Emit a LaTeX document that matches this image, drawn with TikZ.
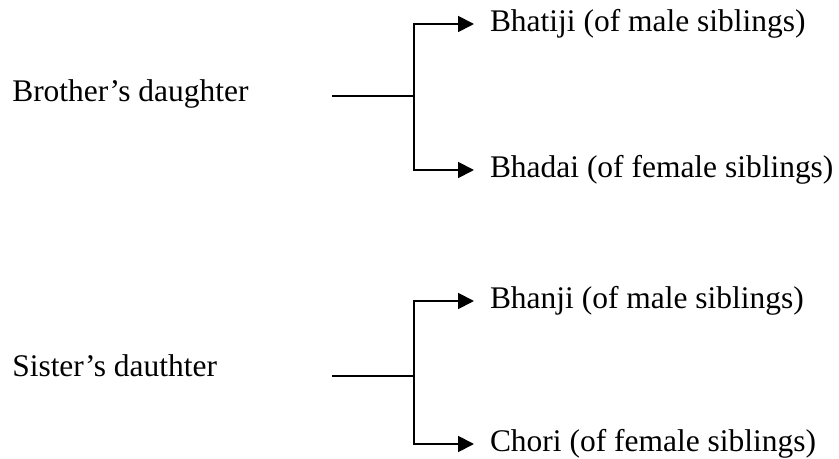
\documentclass[tikz,border=0pt]{standalone}
\usepackage{fontspec}
\setmainfont{Liberation Serif}
\usetikzlibrary{arrows.meta}
\usetikzlibrary{positioning}

\tikzset{
  quelle/.style={anchor=base west, inner sep=0pt, font=\fontsize{23.6}{28}\selectfont},
  ziel/.style={anchor=west, inner xsep=12pt, inner ysep=0pt, outer sep=0pt, font=\fontsize{23.6}{28}\selectfont},
  linie/.style={line width=1.4pt},
  pfeil/.style={linie, -{Triangle[length=12pt, width=12pt]}}
}

\begin{document}
\begin{tikzpicture}[x=0.75pt, y=-0.75pt] % 1 Einheit = 1 Pixel, y nach unten

\useasboundingbox (0,0) rectangle (839,459);

% Begriffe links
\node[quelle] (bruder) at (12,102) {Brother’s daughter};
\node[quelle] (schwester) at (12,377) {Sister’s dauthter};

% Bezeichnungen rechts
\foreach \n/\y/\t in {bhatiji/24/{Bhatiji (of male siblings)}, bhadai/170/{Bhadai (of female siblings)}, bhanji/301/{Bhanji (of male siblings)}, chori/444/{Chori (of female siblings)}} {
  \node[ziel] (\n) at (474,\y) {\t}; % Text mit Abstand zur Pfeilspitze
}

% Verzweigungen
\coordinate (bruderA) at (332,96);
\coordinate (bruderV) at (414,96);
\coordinate (schwesterA) at (332,376);
\coordinate (schwesterV) at (414,376);

\draw[linie] (bruderA) -- (bruderV);
\draw[pfeil] (bruderV) |- (bhatiji);
\draw[pfeil] (bruderV) |- (bhadai);

\draw[linie] (schwesterA) -- (schwesterV);
\draw[pfeil] (schwesterV) |- (bhanji);
\draw[pfeil] (schwesterV) |- (chori);

\end{tikzpicture}
\end{document}
